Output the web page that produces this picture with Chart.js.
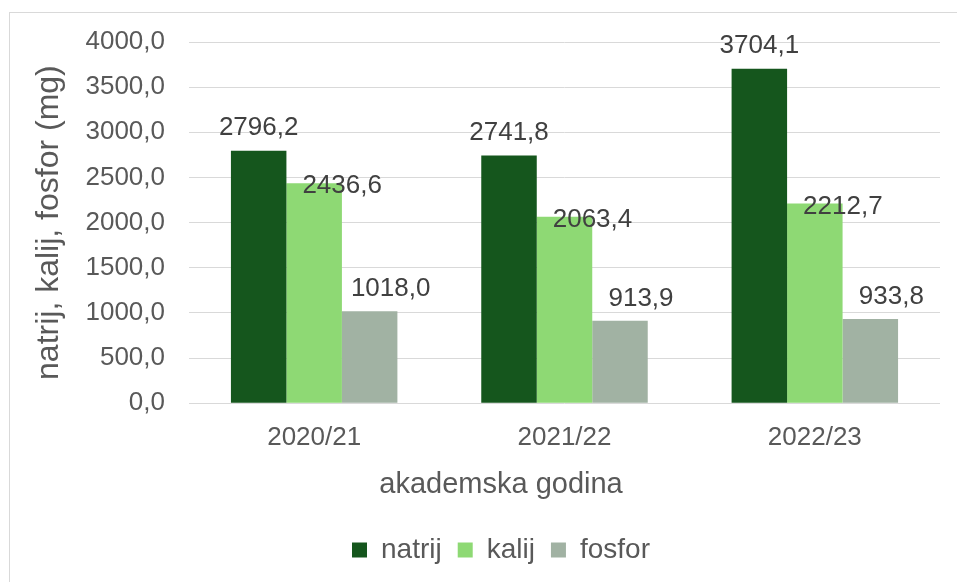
<!DOCTYPE html>
<html>
<head>
<meta charset="utf-8">
<script src="https://cdn.jsdelivr.net/npm/chart.js@4"></script>
<style>
  html, body { margin: 0; padding: 0; background: #fff; overflow: hidden; }
  #frame {
    position: absolute; left: 9px; top: 12px;
    width: 1000px; height: 640px;
    border: 1px solid #d9d9d9;
  }
  #chart { display: block; }
</style>
</head>
<body>
<div id="frame"><canvas id="chart" width="982" height="569"></canvas></div>
<script>
// values
const years = ["2020/21", "2021/22", "2022/23"];
const natrij = [2796.2, 2741.8, 3704.1];
const kalij = [2436.6, 2063.4, 2212.7];
const fosfor = [1018.0, 913.9, 933.8];

// label nudges (dx, dy) per series, the labels in the source sit off-center
const labelShift = { natrij: [0, -23], kalij: [28, 3], fosfor: [21, -22] };

const fmt = v => v.toFixed(1).replace('.', ',');
const FONT = "'Liberation Sans', Arial, sans-serif";

const barLabels = {
    id: 'barLabels',
    afterDatasetsDraw(chart) {
        const ctx = chart.ctx;
        ctx.save();
        ctx.font = "26px " + FONT;
        ctx.fillStyle = '#404040';
        ctx.textAlign = 'center';
        ctx.textBaseline = 'middle';
        chart.data.datasets.forEach((ds, i) => {
            const meta = chart.getDatasetMeta(i);
            const [dx, dy] = labelShift[ds.label];
            meta.data.forEach((bar, j) => {
                ctx.fillText(fmt(ds.data[j]), bar.x + dx, bar.y + dy);
            });
        });
        ctx.restore();
    }
};

new Chart(document.getElementById('chart'), {
    type: 'bar',
    data: {
        labels: years,
        datasets: [
            { label: 'natrij', data: natrij, backgroundColor: '#15561d' },
            { label: 'kalij', data: kalij, backgroundColor: '#8ed974' },
            { label: 'fosfor', data: fosfor, backgroundColor: '#a1b2a3' }
        ]
    },
    options: {
        responsive: false,
        animation: false,
        datasets: { bar: { barPercentage: 1, categoryPercentage: 0.665 } },
        // left/right padding keep the bottom title + legend centred like the source
        layout: { padding: { left: 52, right: 52, top: 29, bottom: 8 } },
        scales: {
            x: {
                grid: { display: false, drawTicks: false },
                border: { display: false },
                ticks: { color: '#595959', font: { family: FONT, size: 26 }, padding: 19 },
                afterFit: s => { s.height = 60; }
            },
            y: {
                min: 0, max: 4000,
                // invisible tick marks give the gap between labels and plot
                grid: { color: '#d9d9d9', drawTicks: true, tickLength: 24, tickColor: 'rgba(0,0,0,0)' },
                border: { display: false },
                ticks: { stepSize: 500, color: '#595959', font: { family: FONT, size: 26 }, padding: 0, callback: v => fmt(v) },
                title: { display: true, text: 'natrij, kalij, fosfor (mg)', color: '#595959',
                         font: { family: FONT, size: 32 }, padding: { top: -32, bottom: 0 } },
                afterFit: s => { s.width = 127; }
            }
        },
        plugins: {
            title: {
                display: true, position: 'bottom', weight: 500,
                text: 'akademska godina', color: '#595959',
                font: { family: FONT, size: 29, weight: 'normal' },
                padding: { top: 4, bottom: 18 }
            },
            legend: {
                position: 'bottom',
                labels: { boxWidth: 15, boxHeight: 15, padding: 16, color: '#595959',
                          font: { family: FONT, size: 28 } }
            },
            tooltip: { enabled: false }
        }
    },
    plugins: [barLabels]
});
</script>
</body>
</html>
